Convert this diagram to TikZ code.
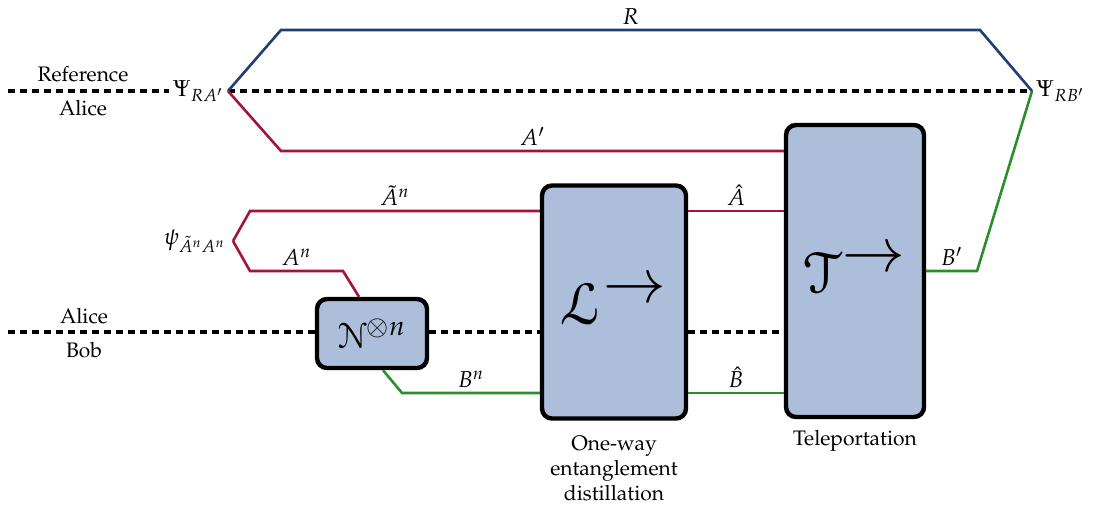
\documentclass[tikz,border=0pt]{standalone}
\usepackage[T1]{fontenc}
\usepackage{mathpazo}
\usepackage{amsmath}
\usepackage[mathcal]{eucal}
\usepackage{tikz}
\usetikzlibrary{positioning, calc}
\definecolor{refblue}{RGB}{32,62,112}
\definecolor{alicered}{RGB}{162,20,58}
\definecolor{bobgreen}{RGB}{42,142,42}
\definecolor{chanfill}{RGB}{172,190,217}
\tikzset{
  chan/.style={rectangle, draw=black, fill=chanfill, line width=2.2pt, rounded corners=5pt,
    inner sep=0pt, text centered},
  cut/.style={black, line width=2pt, dash pattern=on 3.4pt off 2.6pt},
  qref/.style={refblue, line width=1.3pt},
  qalice/.style={alicered, line width=1.3pt},
  qbob/.style={bobgreen, line width=1.3pt},
  sys/.style={font=\fontsize{11.5}{13}\selectfont, text=black, inner sep=2pt},
  party/.style={font=\fontsize{10.5}{12.6}\selectfont, align=center},
  capt/.style={font=\fontsize{10.5}{12.6}\selectfont, align=center}
}

\begin{document}
\begin{tikzpicture}[x=0.5pt, y=-0.5pt]
  \useasboundingbox (0,0) rectangle (1096,516);
  % channels
  \node[chan, minimum width=55pt, minimum height=34.5pt] (noisy) at (372,333.5)
    {\fontsize{18}{20}\selectfont$\mathcal{N}^{\otimes n}$};
  \node[chan, minimum width=72pt, minimum height=116.5pt] (dist) at (614,302)
    {\fontsize{30}{34}\selectfont$\mathcal{L}^{\textstyle\rightarrow}$};
  \node[chan, minimum width=69pt, minimum height=146pt] (tele) at (855,271)
    {\fontsize{30}{34}\selectfont$\mathcal{T}^{\textstyle\rightarrow}$};
  \node[capt, below=4pt of dist] (distcapt) {One-way\\entanglement\\distillation};
  \node[capt, below=2pt of tele] (telecapt) {Teleportation};
  % states
  \coordinate (RA) at (228,91);
  \coordinate (RB) at (1032,91);
  \coordinate (pp) at (233,241);
  \node[sys, anchor=east] (psiRA) at (RA) {$\Psi_{RA'}$};
  \node[sys, anchor=west] (psiRB) at (RB) {$\Psi_{RB'}$};
  \node[sys, anchor=east, inner sep=3.5pt] (psiAA) at (pp) {$\psi_{\tilde{A}^n A^n}$};
  % cuts between parties
  \coordinate (refend) at (8,91);
  \coordinate (bobend) at (8,332);
  \draw[cut] (refend) -- (psiRA.west);
  \draw[cut] (RA) -- (RB);
  \draw[cut] (bobend) -- (noisy.west |- bobend);
  \draw[cut] (noisy.east |- bobend) -- (dist.west |- bobend);
  \draw[cut] (dist.east |- bobend) -- (tele.west |- bobend);
  \node[party] (refname) at (83,74) {Reference};
  \node[party] (alicetop) at (83,108) {Alice};
  \node[party] (alicebot) at (84,316) {Alice};
  \node[party] (bobname) at (84,350) {Bob};
  % systems
  \draw[qref] (RA) -- (281,30) -- node[sys, above] {$R$} (980,30) -- (RB);
  \draw[qalice] (RA) -- (281,151) -- node[sys, above] {$A'$} (tele.west |- 281,151);
  \draw[qbob] (tele.east |- 977,271) -- node[sys, above] {$B'$} (977,271) -- (RB);
  \draw[qalice] (pp) -- (250,211) -- node[sys, above] {$\tilde{A}^n$} (dist.west |- 250,211);
  \draw[qalice] (pp) -- (250,271) -- node[sys, above] {$A^n$} (343,271) -- (359,299 |- noisy.north);
  \draw[qbob] (383,368 |- noisy.south) -- (402,393) -- node[sys, above] {$B^n$} (dist.west |- 402,393);
  \draw[qalice] (dist.east |- 0,211) -- node[sys, above] {$\hat{A}$} (tele.west |- 0,211);
  \draw[qbob] (dist.east |- 0,393) -- node[sys, above] {$\hat{B}$} (tele.west |- 0,393);
\end{tikzpicture}
\end{document}
